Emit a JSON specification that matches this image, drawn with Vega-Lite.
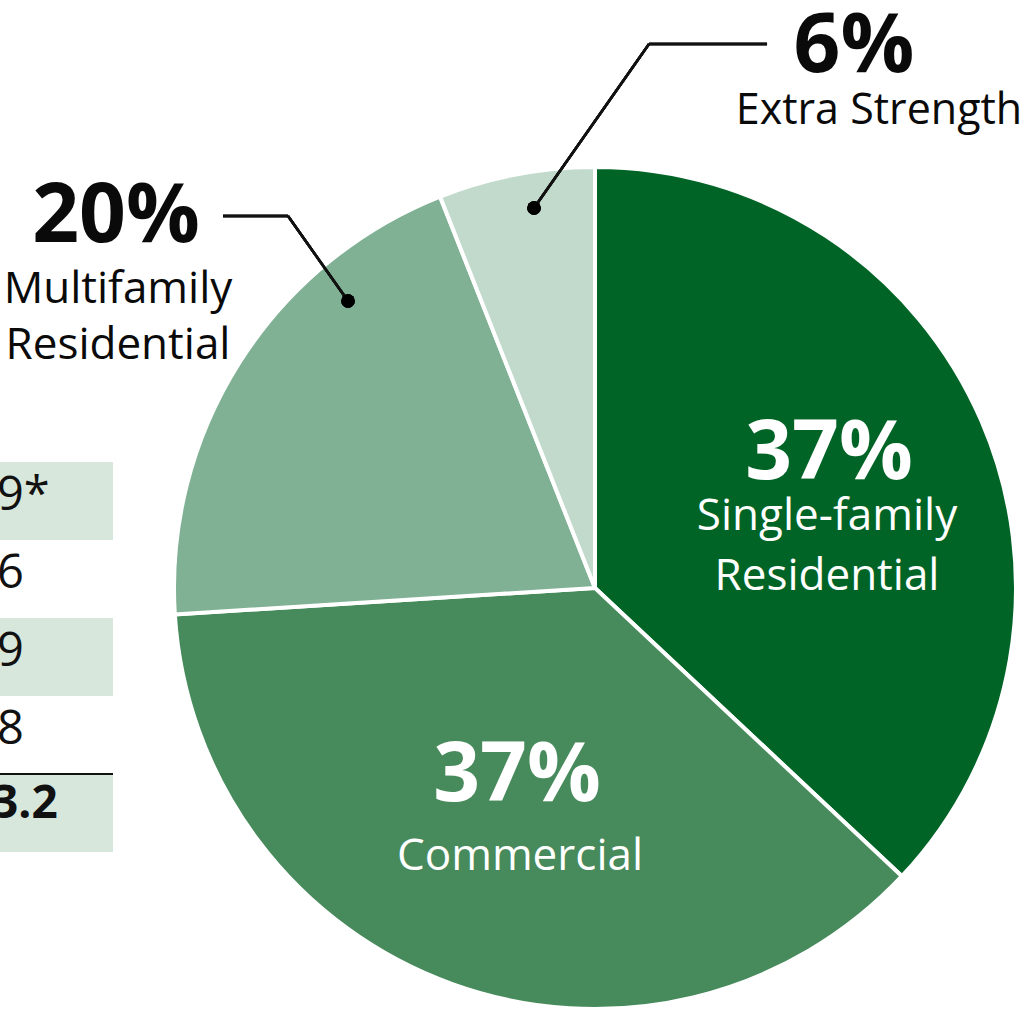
{
  "$schema": "https://vega.github.io/schema/vega-lite/v6.json",
  "width": 1029,
  "height": 1009,
  "padding": 0,
  "autosize": {"type": "none"},
  "background": "white",
  "config": {"view": {"stroke": null}, "font": "Open Sans"},
  "datasets": {
    "shares": [
      {"category": "Single-family Residential", "name": "Single-family\nResidential", "share": 0.37, "rank": 1},
      {"category": "Commercial", "name": "Commercial", "share": 0.37, "rank": 2},
      {"category": "Multifamily Residential", "name": "Multifamily\nResidential", "share": 0.20, "rank": 3},
      {"category": "Extra Strength", "name": "Extra Strength", "share": 0.06, "rank": 4}
    ],
    "table": [
      {"row": 1, "value": "9*", "kind": "item"},
      {"row": 2, "value": "6", "kind": "item"},
      {"row": 3, "value": "9", "kind": "item"},
      {"row": 4, "value": "8", "kind": "item"},
      {"row": 5, "value": "3.2", "kind": "total"}
    ]
  },
  "resolve": {"scale": {"y": "independent"}},
  "layer": [
    {
      "data": {"name": "shares"},
      "layer": [
        {
          "mark": {"type": "arc", "outerRadius": 421, "stroke": "white", "strokeWidth": 4},
          "encoding": {
            "theta": {"field": "share", "type": "quantitative", "stack": true},
            "order": {"field": "rank", "type": "quantitative"},
            "color": {"field": "category", "type": "nominal", "legend": null,
              "scale": {"domain": ["Single-family Residential", "Commercial", "Multifamily Residential", "Extra Strength"],
                        "range": ["#006426", "#478a5c", "#81b195", "#c1dacb"]}},
            "x": {"datum": 0, "type": "quantitative", "axis": null, "scale": {"domain": [-1.4133, 1.03088], "nice": false, "zero": false}},
            "y": {"datum": 0, "type": "quantitative", "axis": null, "scale": {"domain": [-1.0, 1.39667], "nice": false, "zero": false}}
          }
        },
        {
          "mark": {"type": "rule", "strokeWidth": 2.5, "color": "#111111"},
          "encoding": {
            "x": {"datum": -0.1449, "type": "quantitative", "axis": null, "scale": {"domain": [-1.4133, 1.03088], "nice": false, "zero": false}},
            "y": {"datum": 0.9026, "type": "quantitative", "axis": null, "scale": {"domain": [-1.0, 1.39667], "nice": false, "zero": false}},
            "x2": {"datum": 0.1283},
            "y2": {"datum": 1.2922}
          }
        },
        {
          "mark": {"type": "rule", "strokeWidth": 2.5, "color": "#111111"},
          "encoding": {
            "x": {"datum": 0.1283, "type": "quantitative", "axis": null, "scale": {"domain": [-1.4133, 1.03088], "nice": false, "zero": false}},
            "y": {"datum": 1.2922, "type": "quantitative", "axis": null, "scale": {"domain": [-1.0, 1.39667], "nice": false, "zero": false}},
            "x2": {"datum": 0.4086},
            "y2": {"datum": 1.2922}
          }
        },
        {
          "mark": {"type": "rule", "strokeWidth": 2.5, "color": "#111111"},
          "encoding": {
            "x": {"datum": -0.5867, "type": "quantitative", "axis": null, "scale": {"domain": [-1.4133, 1.03088], "nice": false, "zero": false}},
            "y": {"datum": 0.6817, "type": "quantitative", "axis": null, "scale": {"domain": [-1.0, 1.39667], "nice": false, "zero": false}},
            "x2": {"datum": -0.7292},
            "y2": {"datum": 0.8836}
          }
        },
        {
          "mark": {"type": "rule", "strokeWidth": 2.5, "color": "#111111"},
          "encoding": {
            "x": {"datum": -0.7292, "type": "quantitative", "axis": null, "scale": {"domain": [-1.4133, 1.03088], "nice": false, "zero": false}},
            "y": {"datum": 0.8836, "type": "quantitative", "axis": null, "scale": {"domain": [-1.0, 1.39667], "nice": false, "zero": false}},
            "x2": {"datum": -0.8836},
            "y2": {"datum": 0.8836}
          }
        },
        {
          "mark": {"type": "circle", "size": 180, "color": "#000000", "opacity": 1},
          "encoding": {
            "x": {"datum": -0.1449, "type": "quantitative", "axis": null, "scale": {"domain": [-1.4133, 1.03088], "nice": false, "zero": false}},
            "y": {"datum": 0.9026, "type": "quantitative", "axis": null, "scale": {"domain": [-1.0, 1.39667], "nice": false, "zero": false}}
          }
        },
        {
          "mark": {"type": "circle", "size": 180, "color": "#000000", "opacity": 1},
          "encoding": {
            "x": {"datum": -0.5867, "type": "quantitative", "axis": null, "scale": {"domain": [-1.4133, 1.03088], "nice": false, "zero": false}},
            "y": {"datum": 0.6817, "type": "quantitative", "axis": null, "scale": {"domain": [-1.0, 1.39667], "nice": false, "zero": false}}
          }
        },
        {
          "transform": [{"filter": "datum.rank == 1"}],
          "mark": {"type": "text", "font": "Open Sans", "fontWeight": "bold", "fontSize": 82, "color": "white", "align": "center", "baseline": "middle"},
          "encoding": {
            "text": {"field": "share", "type": "quantitative", "format": ".0%"},
            "x": {"datum": 0.5558, "type": "quantitative", "axis": null, "scale": {"domain": [-1.4133, 1.03088], "nice": false, "zero": false}},
            "y": {"datum": 0.3183, "type": "quantitative", "axis": null, "scale": {"domain": [-1.0, 1.39667], "nice": false, "zero": false}}
          }
        },
        {
          "transform": [{"filter": "datum.rank == 1"}],
          "mark": {"type": "text", "font": "Open Sans", "fontSize": 44, "color": "white", "align": "center", "baseline": "middle", "lineBreak": "\n", "lineHeight": 60},
          "encoding": {
            "text": {"field": "name", "type": "nominal"},
            "x": {"datum": 0.5511, "type": "quantitative", "axis": null, "scale": {"domain": [-1.4133, 1.03088], "nice": false, "zero": false}},
            "y": {"datum": 0.1686, "type": "quantitative", "axis": null, "scale": {"domain": [-1.0, 1.39667], "nice": false, "zero": false}}
          }
        },
        {
          "transform": [{"filter": "datum.rank == 2"}],
          "mark": {"type": "text", "font": "Open Sans", "fontWeight": "bold", "fontSize": 82, "color": "white", "align": "center", "baseline": "middle"},
          "encoding": {
            "text": {"field": "share", "type": "quantitative", "format": ".0%"},
            "x": {"datum": -0.1853, "type": "quantitative", "axis": null, "scale": {"domain": [-1.4133, 1.03088], "nice": false, "zero": false}},
            "y": {"datum": -0.4466, "type": "quantitative", "axis": null, "scale": {"domain": [-1.0, 1.39667], "nice": false, "zero": false}}
          }
        },
        {
          "transform": [{"filter": "datum.rank == 2"}],
          "mark": {"type": "text", "font": "Open Sans", "fontSize": 44, "color": "white", "align": "center", "baseline": "middle", "lineBreak": "\n", "lineHeight": 60},
          "encoding": {
            "text": {"field": "name", "type": "nominal"},
            "x": {"datum": -0.1781, "type": "quantitative", "axis": null, "scale": {"domain": [-1.4133, 1.03088], "nice": false, "zero": false}},
            "y": {"datum": -0.6390, "type": "quantitative", "axis": null, "scale": {"domain": [-1.0, 1.39667], "nice": false, "zero": false}}
          }
        },
        {
          "transform": [{"filter": "datum.rank == 3"}],
          "mark": {"type": "text", "font": "Open Sans", "fontWeight": "bold", "fontSize": 82, "color": "#0a0a0a", "align": "center", "baseline": "middle"},
          "encoding": {
            "text": {"field": "share", "type": "quantitative", "format": ".0%"},
            "x": {"datum": -1.1378, "type": "quantitative", "axis": null, "scale": {"domain": [-1.4133, 1.03088], "nice": false, "zero": false}},
            "y": {"datum": 0.8812, "type": "quantitative", "axis": null, "scale": {"domain": [-1.0, 1.39667], "nice": false, "zero": false}}
          }
        },
        {
          "transform": [{"filter": "datum.rank == 3"}],
          "mark": {"type": "text", "font": "Open Sans", "fontSize": 44, "color": "#0a0a0a", "align": "center", "baseline": "middle", "lineBreak": "\n", "lineHeight": 56},
          "encoding": {
            "text": {"field": "name", "type": "nominal"},
            "x": {"datum": -1.1330, "type": "quantitative", "axis": null, "scale": {"domain": [-1.4133, 1.03088], "nice": false, "zero": false}},
            "y": {"datum": 0.7078, "type": "quantitative", "axis": null, "scale": {"domain": [-1.0, 1.39667], "nice": false, "zero": false}}
          }
        },
        {
          "transform": [{"filter": "datum.rank == 4"}],
          "mark": {"type": "text", "font": "Open Sans", "fontWeight": "bold", "fontSize": 82, "color": "#0a0a0a", "align": "center", "baseline": "middle"},
          "encoding": {
            "text": {"field": "share", "type": "quantitative", "format": ".0%"},
            "x": {"datum": 0.6152, "type": "quantitative", "axis": null, "scale": {"domain": [-1.4133, 1.03088], "nice": false, "zero": false}},
            "y": {"datum": 1.2850, "type": "quantitative", "axis": null, "scale": {"domain": [-1.0, 1.39667], "nice": false, "zero": false}}
          }
        },
        {
          "transform": [{"filter": "datum.rank == 4"}],
          "mark": {"type": "text", "font": "Open Sans", "fontSize": 43, "color": "#0a0a0a", "align": "center", "baseline": "middle"},
          "encoding": {
            "text": {"field": "name", "type": "nominal"},
            "x": {"datum": 0.6746, "type": "quantitative", "axis": null, "scale": {"domain": [-1.4133, 1.03088], "nice": false, "zero": false}},
            "y": {"datum": 1.1330, "type": "quantitative", "axis": null, "scale": {"domain": [-1.0, 1.39667], "nice": false, "zero": false}}
          }
        }
      ]
    },
    {
      "data": {"name": "table"},
      "layer": [
        {
          "transform": [{"filter": "datum.row % 2 == 1"}],
          "mark": {"type": "rect", "color": "#d8e7dc"},
          "encoding": {
            "x": {"datum": -1.4133, "type": "quantitative", "axis": null, "scale": {"domain": [-1.4133, 1.03088], "nice": false, "zero": false}},
            "x2": {"datum": -1.1449},
            "y": {"field": "row", "type": "ordinal", "axis": null, "scale": {"domain": [1, 2, 3, 4, 5], "range": [462, 852], "paddingInner": 0, "paddingOuter": 0}}
          }
        },
        {
          "transform": [{"filter": "datum.kind == 'total'"}],
          "mark": {"type": "rule", "strokeWidth": 2, "color": "#111111"},
          "encoding": {
            "x": {"datum": -1.4133, "type": "quantitative", "axis": null, "scale": {"domain": [-1.4133, 1.03088], "nice": false, "zero": false}},
            "x2": {"datum": -1.1449},
            "y": {"field": "row", "type": "ordinal", "bandPosition": 0, "axis": null, "scale": {"domain": [1, 2, 3, 4, 5], "range": [462, 852], "paddingInner": 0, "paddingOuter": 0}}
          }
        },
        {
          "transform": [{"filter": "datum.kind == 'item'"}],
          "mark": {"type": "text", "font": "Open Sans", "fontSize": 47, "color": "#111111", "align": "left", "baseline": "middle", "dx": -3, "dy": -5},
          "encoding": {
            "text": {"field": "value", "type": "nominal"},
            "x": {"datum": -1.4133, "type": "quantitative", "axis": null, "scale": {"domain": [-1.4133, 1.03088], "nice": false, "zero": false}},
            "y": {"field": "row", "type": "ordinal", "axis": null, "scale": {"domain": [1, 2, 3, 4, 5], "range": [462, 852], "paddingInner": 0, "paddingOuter": 0}}
          }
        },
        {
          "transform": [{"filter": "datum.kind == 'total'"}],
          "mark": {"type": "text", "font": "Open Sans", "fontSize": 46, "fontWeight": "bold", "color": "#111111", "align": "left", "baseline": "middle", "dx": -8, "dy": -9},
          "encoding": {
            "text": {"field": "value", "type": "nominal"},
            "x": {"datum": -1.4133, "type": "quantitative", "axis": null, "scale": {"domain": [-1.4133, 1.03088], "nice": false, "zero": false}},
            "y": {"field": "row", "type": "ordinal", "axis": null, "scale": {"domain": [1, 2, 3, 4, 5], "range": [462, 852], "paddingInner": 0, "paddingOuter": 0}}
          }
        }
      ]
    }
  ]
}
